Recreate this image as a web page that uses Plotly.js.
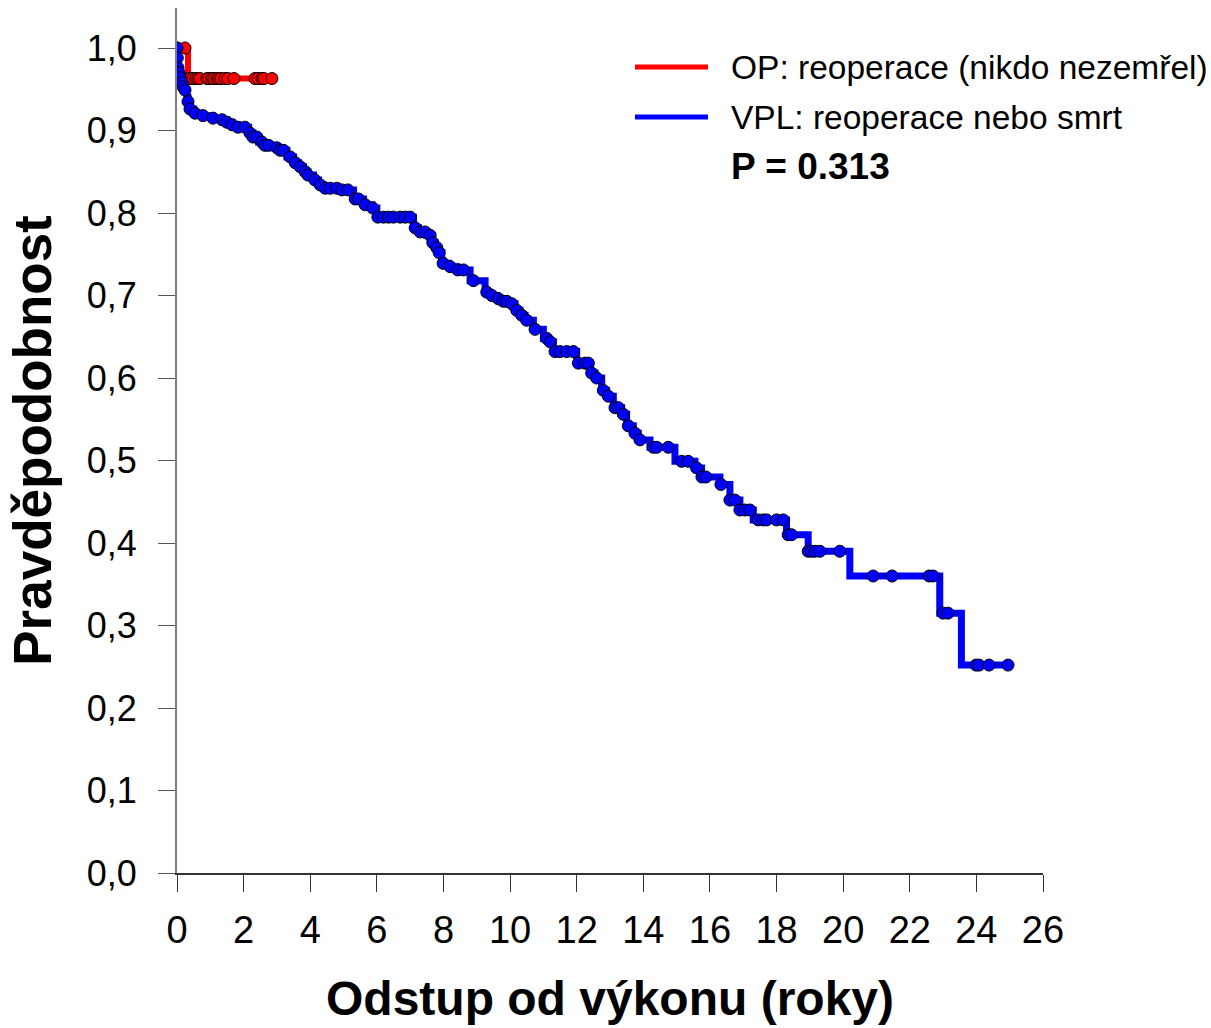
<!DOCTYPE html>
<html>
<head>
<meta charset="utf-8">
<script src="https://cdn.plot.ly/plotly-3.0.1.min.js"></script>
<style>html,body{margin:0;padding:0;background:#fff;}#chart{width:1211px;height:1028px;}</style>
</head>
<body>
<div id="chart"></div>
<script>
// ---- Data ----
// OP group (red): Kaplan-Meier step times and survival after each step
const opTimes = [0, 0.33, 2.85];
const opSurv  = [1.0, 0.963, 0.963];
// OP censoring times
const opCensor = [0.0, 0.24, 0.35, 0.39, 0.48, 0.57, 0.63, 0.69, 0.9, 0.96, 1.05, 1.11, 1.2, 1.26, 1.32, 1.44, 1.53, 1.71, 2.34, 2.43, 2.55, 2.61, 2.85];

// VPL group (blue): step times and survival after each step
const vplTimes = [0, 0.01, 0.03, 0.06, 0.09, 0.15, 0.18, 0.24, 0.3, 0.33, 0.39, 0.5, 0.75, 1.05, 1.35, 1.5, 1.65, 1.83, 2.15, 2.28, 2.45, 2.6, 2.9, 3.1, 3.3, 3.5, 3.65, 3.8, 3.93, 4.1, 4.25, 4.4, 4.95, 5.3, 5.6, 5.85, 6.0, 7.1, 7.25, 7.5, 7.65, 7.75, 7.85, 7.95, 8.15, 8.4, 8.8, 9.25, 9.4, 9.6, 9.75, 10.0, 10.15, 10.3, 10.45, 10.7, 11.0, 11.15, 11.3, 12.0, 12.4, 12.55, 12.75, 12.9, 13.1, 13.35, 13.5, 13.7, 13.85, 14.2, 14.95, 15.55, 15.75, 16.3, 16.6, 16.9, 17.3, 18.3, 18.95, 20.2, 22.9, 23.55, 24.95];
const vplSurv  = [1.0, 0.988, 0.976, 0.97, 0.964, 0.958, 0.953, 0.949, 0.94, 0.935, 0.926, 0.921, 0.918, 0.915, 0.913, 0.91, 0.907, 0.904, 0.897, 0.892, 0.886, 0.882, 0.879, 0.876, 0.868, 0.861, 0.856, 0.85, 0.846, 0.84, 0.834, 0.83, 0.828, 0.817, 0.81, 0.806, 0.795, 0.782, 0.777, 0.773, 0.764, 0.758, 0.752, 0.739, 0.735, 0.731, 0.718, 0.704, 0.7, 0.696, 0.693, 0.69, 0.682, 0.676, 0.67, 0.659, 0.648, 0.644, 0.632, 0.618, 0.606, 0.6, 0.585, 0.578, 0.564, 0.556, 0.542, 0.533, 0.525, 0.516, 0.499, 0.491, 0.48, 0.471, 0.452, 0.44, 0.428, 0.41, 0.39, 0.36, 0.315, 0.252, 0.252];
// VPL censoring times
const vplCensor = [0, 0.01, 0.03, 0.06, 0.09, 0.15, 0.18, 0.24, 0.33, 0.39, 0.54, 0.78, 1.08, 1.35, 1.5, 1.65, 1.83, 2.04, 2.19, 2.28, 2.4, 2.55, 2.64, 2.75, 3.0, 3.1, 3.2, 3.4, 3.55, 3.7, 3.85, 3.93, 4.14, 4.3, 4.45, 4.6, 4.8, 4.95, 5.13, 5.35, 5.45, 5.65, 5.88, 6.03, 6.2, 6.35, 6.5, 6.7, 6.85, 7.0, 7.15, 7.3, 7.45, 7.6, 7.68, 7.8, 7.87, 7.99, 8.2, 8.43, 8.6, 8.9, 9.3, 9.45, 9.65, 9.8, 9.9, 10.05, 10.2, 10.35, 10.5, 10.75, 11.1, 11.2, 11.35, 11.5, 11.7, 11.9, 12.05, 12.25, 12.35, 12.45, 12.6, 12.8, 12.95, 13.15, 13.25, 13.4, 13.55, 13.75, 13.9, 14.3, 14.4, 14.75, 15.15, 15.35, 15.6, 15.76, 15.88, 16.33, 16.6, 16.75, 16.9, 17.05, 17.2, 17.45, 17.6, 17.7, 18.0, 18.2, 18.35, 18.45, 18.95, 19.05, 19.15, 19.3, 19.9, 20.9, 21.47, 22.58, 22.7, 23.0, 23.15, 23.99, 24.08, 24.38, 24.95];

const xTickVals = [0, 2, 4, 6, 8, 10, 12, 14, 16, 18, 20, 22, 24, 26];
const yTickVals = [0, 0.1, 0.2, 0.3, 0.4, 0.5, 0.6, 0.7, 0.8, 0.9, 1.0];
const seriesNames = ['OP: reoperace (nikdo nezemřel)', 'VPL: reoperace nebo smrt'];
const pValueText = 'P = 0.313';

// survival value at time t from a step table
function survAt(times, surv, t) {
  let s = surv[0];
  for (let i = 0; i < times.length; i++) { if (times[i] <= t + 1e-9) s = surv[i]; }
  return s;
}

const traces = [
  {x: opTimes, y: opSurv, mode: 'lines', line: {shape: 'hv', color: '#ff0000', width: 6}, hoverinfo: 'skip', showlegend: false},
  {x: opCensor, y: opCensor.map(t => survAt(opTimes, opSurv, t)), mode: 'markers',
   marker: {color: '#ff0000', size: 12, line: {color: '#000', width: 1}}, showlegend: false},
  {x: vplTimes, y: vplSurv, mode: 'lines', line: {shape: 'hv', color: '#0000ff', width: 7}, hoverinfo: 'skip', showlegend: false},
  {x: vplCensor, y: vplCensor.map(t => survAt(vplTimes, vplSurv, t)), mode: 'markers',
   marker: {color: '#0000ff', size: 12, line: {color: '#000', width: 1}}, showlegend: false}
];

// pixel helpers for the legend block (plot area: x 177..1043, y 8..873)
const L = 177, R = 1043, T = 8, B = 873;
const px = v => (v - L) / (R - L);
const py = v => (B - v) / (B - T);

const legendColors = ['#ff0000', '#0000ff'];
const legendY = [67, 117];
const shapes = legendY.map((yy, i) => ({type: 'line', xref: 'paper', yref: 'paper',
  x0: px(635), x1: px(708), y0: py(yy), y1: py(yy), line: {color: legendColors[i], width: 5}}));
const annotations = seriesNames.map((n, i) => ({xref: 'paper', yref: 'paper', x: px(729), y: py(legendY[i]),
  xanchor: 'left', yanchor: 'middle', showarrow: false, text: n,
  font: {family: 'Liberation Sans, Arial, sans-serif', size: 33.5, color: '#000'}}));
annotations.push({xref: 'paper', yref: 'paper', x: px(729), y: py(166), xanchor: 'left', yanchor: 'middle',
  showarrow: false, text: '<b>' + pValueText + '</b>',
  font: {family: 'Liberation Sans, Arial, sans-serif', size: 37, color: '#000'}});

const layout = {
  width: 1211, height: 1028,
  margin: {l: L, r: 1211 - R, t: T, b: 1028 - B, pad: 0},
  paper_bgcolor: '#fff', plot_bgcolor: '#fff',
  separators: ', ',
  showlegend: false,
  xaxis: {
    range: [0, 26], tickvals: xTickVals, ticktext: xTickVals.map(String),
    showgrid: false, zeroline: false, showline: true, linecolor: '#333', linewidth: 2,
    ticks: 'outside', ticklen: 17, tickwidth: 1, tickcolor: '#333',
    ticklabelstandoff: 5,
    tickfont: {family: 'Liberation Sans Narrow, Arial Narrow, Liberation Sans, sans-serif', size: 38, color: '#000'},
    title: {text: '<b>Odstup od výkonu (roky)</b>', standoff: 32,
      font: {family: 'Liberation Sans, Arial, sans-serif', size: 48, color: '#000'}}
  },
  yaxis: {
    range: [0, (B - T) / 825], tickvals: yTickVals, tickformat: '.1f',
    showgrid: false, zeroline: false, showline: true, linecolor: '#808080', linewidth: 2,
    ticks: 'outside', ticklen: 17, tickwidth: 1, tickcolor: '#555',
    ticklabelstandoff: 14,
    tickfont: {family: 'Liberation Sans, Arial, sans-serif', size: 36, color: '#000'},
    title: {text: '<b>Pravděpodobnost</b>', standoff: 18,
      font: {family: 'Liberation Sans, Arial, sans-serif', size: 53, color: '#000'}}
  },
  shapes: shapes,
  annotations: annotations
};

Plotly.newPlot('chart', traces, layout, {staticPlot: true, displayModeBar: false});
</script>
</body>
</html>
